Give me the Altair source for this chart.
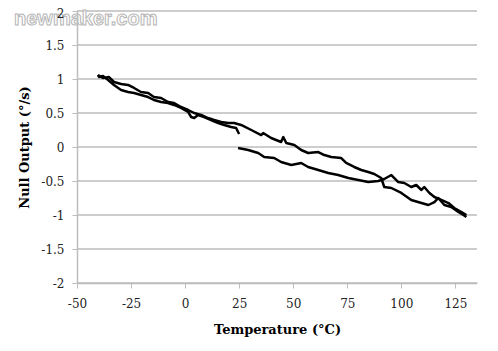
import altair as alt
import pandas as pd

# Heating run 1: 25 °C -> 130 °C
heat1_T = [24.5, 29.2, 33.8, 36.6, 41.2, 44.4, 49.1, 53.7, 56.9, 61.6, 66.2, 70.8, 75.5, 80.1,
           84.7, 89.4, 92.1, 95.4, 98.6, 101.4, 104.6, 106.9, 109.3, 110.6, 113.0, 115.3, 118.5,
           121.8, 124.5, 127.8, 130.1]
heat1_V = [-0.015, -0.044, -0.088, -0.147, -0.162, -0.221, -0.265, -0.235, -0.294, -0.338, -0.382,
           -0.412, -0.456, -0.485, -0.515, -0.5, -0.471, -0.412, -0.515, -0.529, -0.588, -0.559,
           -0.632, -0.588, -0.676, -0.735, -0.779, -0.824, -0.897, -0.956, -1.0]

# Cooling run: 130 °C -> -40 °C
cool_T = [130.1, 128.7, 126.4, 123.1, 119.9, 117.1, 115.3, 112.5, 109.3, 104.6, 100.0, 95.4, 92.1,
          90.7, 87.5, 84.7, 81.5, 78.2, 74.5, 72.2, 67.6, 64.4, 61.6, 56.9, 53.7, 50.5, 46.8, 45.4,
          44.4, 39.8, 36.1, 35.2, 30.6, 25.9, 22.7, 19.9, 16.7, 13.4, 10.6, 7.4, 4.2, 1.4, -1.9,
          -5.1, -7.9, -11.1, -14.4, -17.1, -20.4, -23.6, -26.4, -29.6, -32.9, -35.2, -38.0, -40.3]
cool_V = [-1.029, -1.0, -0.956, -0.882, -0.853, -0.75, -0.809, -0.853, -0.824, -0.779, -0.676,
          -0.603, -0.588, -0.456, -0.397, -0.368, -0.338, -0.294, -0.235, -0.162, -0.147, -0.118,
          -0.074, -0.088, -0.044, 0.029, 0.059, 0.147, 0.074, 0.132, 0.206, 0.176, 0.25, 0.324,
          0.353, 0.353, 0.368, 0.397, 0.426, 0.471, 0.5, 0.544, 0.588, 0.647, 0.662, 0.721, 0.735,
          0.794, 0.809, 0.868, 0.912, 0.926, 0.956, 1.029, 1.015, 1.059]

# Heating run 2: -40 °C -> 25 °C
heat2_T = [-40.3, -39.8, -38.0, -35.6, -32.9, -29.6, -26.4, -23.6, -20.4, -17.1, -14.4, -11.1,
           -7.9, -5.1, -1.9, 1.4, 2.8, 4.2, 6.0, 8.8, 12.0, 15.3, 18.1, 21.3, 23.6, 24.5, 25.0]
heat2_V = [1.059, 1.029, 1.044, 0.985, 0.912, 0.838, 0.809, 0.794, 0.765, 0.735, 0.691, 0.662,
           0.647, 0.618, 0.574, 0.515, 0.441, 0.426, 0.471, 0.441, 0.397, 0.353, 0.324, 0.294,
           0.279, 0.221, 0.191]

x_ticks = [-50, -25, 0, 25, 50, 75, 100, 125]
y_ticks = [-2, -1.5, -1, -0.5, 0, 0.5, 1, 1.5, 2]

rows = []
for name, T, V in [("heat1", heat1_T, heat1_V), ("cool", cool_T, cool_V), ("heat2", heat2_T, heat2_V)]:
    for i, (t, v) in enumerate(zip(T, V)):
        rows.append({"run": name, "i": i, "T": t, "V": v})
df = pd.DataFrame(rows)
grid_df = pd.DataFrame({"V": y_ticks})

FONT = "DejaVu Serif"
GRID = "#bdbdbd"

x_scale = alt.Scale(domain=[-50, 135], nice=False, zero=False)
y_scale = alt.Scale(domain=[-2, 2], nice=False, zero=False)

y_axis = alt.Axis(values=y_ticks, title="Null Output (°/s)", grid=False, labelFlush=False,
                  labelOverlap=False, zindex=1,
                  labelOffset={"condition": {"test": "datum.value == 2", "value": 2}, "value": 0},
                  labelExpr="'' + datum.value", tickSize=5, labelPadding=8,
                  titlePadding=9, domainColor=GRID, tickColor=GRID, domainWidth=1.5)

grid = alt.Chart(grid_df).mark_rule(color=GRID, strokeWidth=1.5).encode(
    y=alt.Y("V:Q", scale=y_scale, axis=y_axis),
    x=alt.value(0), x2=alt.value(400),
)

lines = alt.Chart(df).mark_line(color="black", strokeWidth=2.5, strokeJoin="round").encode(
    x=alt.X("T:Q", scale=x_scale,
            axis=alt.Axis(values=x_ticks, title="Temperature (°C)", grid=False, labelFlush=False,
                          labelOverlap=False,
                          labelExpr="'' + datum.value", tickSize=5, labelPadding=10,
                          titlePadding=14, domainColor=GRID, tickColor=GRID, domainWidth=1.5)),
    y=alt.Y("V:Q", scale=y_scale, axis=y_axis),
    detail="run:N",
    order="i:Q",
)

watermark = alt.Chart(pd.DataFrame({"t": ["newmaker.com"]})).mark_text(
    align="left", baseline="middle", font="Liberation Sans", fontSize=20, fontWeight="bold",
    fill="white", fillOpacity=0.8, stroke="#b5b5b5", strokeWidth=1
).encode(x=alt.value(-63), y=alt.value(8), text="t:N")

chart = alt.layer(grid, lines, watermark).properties(
    width=400, height=272,
    padding={"left": 69, "top": 3, "right": 5, "bottom": 60},
    autosize=alt.AutoSizeParams(type="none"),
).configure_view(stroke=None).configure_axis(
    labelFont=FONT, labelFontSize=12, labelColor="#222222",
    titleFont=FONT, titleFontSize=13, titleFontWeight="bold", titleColor="black",
)

chart.save("out.html", embed_options={"renderer": "svg", "actions": False})
